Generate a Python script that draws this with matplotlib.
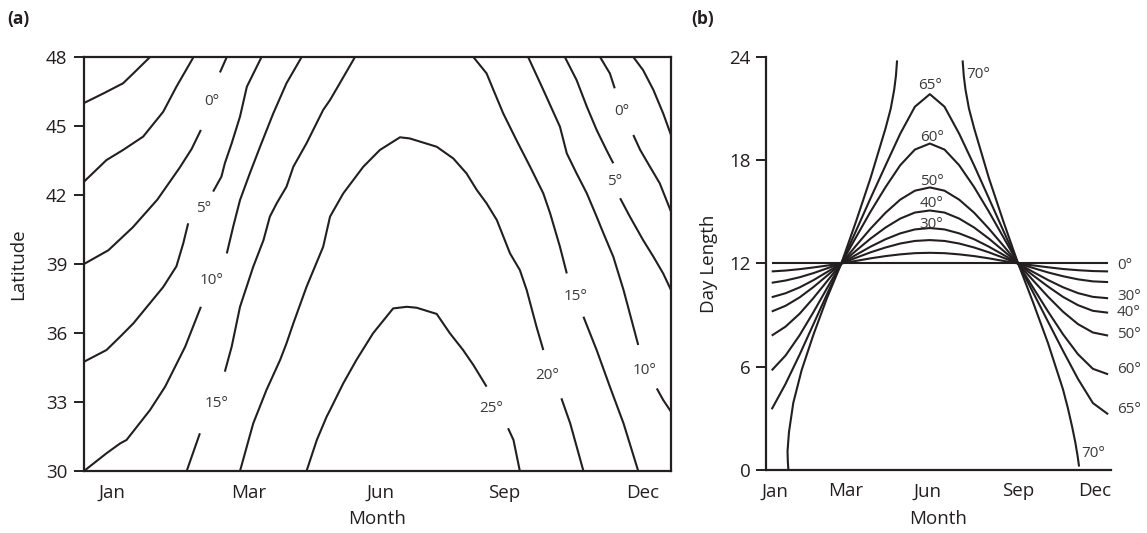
import matplotlib
matplotlib.use("Agg")
import matplotlib.pyplot as plt

plt.rcParams['font.family'] = ['Open Sans', 'DejaVu Sans']

INK = '#231f20'

# ---------------- panel (a): isotherms as (month, latitude) pairs ----------------
# pieces are split where the curve is interrupted by its label
iso_m10 = [(0.0, 46.0), (0.40, 46.42), (0.80, 46.86), (1.01, 47.29), (1.35, 48.0)]
iso_m5 = [(0.0, 42.58), (0.46, 43.52), (0.80, 43.96), (1.21, 44.54), (1.62, 45.62),
          (1.89, 46.71), (2.24, 48.0)]
iso_0_lo = [(0.0, 39.0), (0.5, 39.6), (1.0, 40.6), (1.5, 41.8), (1.96, 43.2),
            (2.2, 44.0), (2.39, 44.83)]
iso_0_hi = [(2.78, 47.33), (2.92, 48.0)]
iso_5_lo = [(0.0, 34.75), (0.46, 35.26), (0.74, 35.84), (1.01, 36.42), (1.62, 38.0),
            (1.89, 38.9), (2.03, 39.9), (2.13, 40.77)]
iso_5_hi = [(2.64, 42.15), (2.81, 42.80), (2.88, 43.38), (3.02, 44.25), (3.19, 45.41),
            (3.33, 46.71), (3.63, 48.0)]
iso_10_lo = [(0.0, 30.0), (0.46, 30.77), (0.74, 31.20), (0.87, 31.35), (1.35, 32.65),
             (1.66, 33.67), (1.83, 34.39), (2.07, 35.41), (2.39, 37.14)]
iso_10_hi = [(2.92, 39.46), (3.05, 40.62), (3.19, 41.78), (3.39, 42.94), (3.60, 44.10),
             (3.87, 45.55), (4.14, 46.86), (4.45, 48.0)]
iso_15_lo = [(2.10, 30.0), (2.37, 31.64)]
iso_15_hi = [(2.88, 34.32), (3.02, 35.41), (3.19, 37.14), (3.46, 38.88), (3.67, 40.04),
             (3.80, 41.06), (3.94, 41.64), (4.14, 42.36), (4.28, 43.23), (4.55, 44.25),
             (4.89, 45.70), (5.03, 46.13), (5.23, 46.86), (5.54, 48.0)]
iso_15_rt = [(7.96, 48.0), (8.23, 47.29), (8.37, 46.57), (8.57, 45.55), (8.84, 44.39),
             (9.12, 43.23), (9.39, 42.07), (9.53, 41.20), (9.73, 39.75), (9.87, 38.59)]
iso_15_rb = [(10.21, 36.71), (10.48, 35.26), (10.75, 33.67), (11.03, 32.07), (11.33, 30.0)]
iso_20 = [(3.19, 30.0), (3.46, 32.07), (3.73, 33.52), (4.01, 34.83), (4.14, 35.55),
          (4.28, 36.42), (4.55, 38.01), (4.89, 39.75), (5.03, 41.06), (5.30, 42.07),
          (5.71, 43.23), (6.05, 43.96), (6.46, 44.51), (6.66, 44.46), (7.21, 44.10),
          (7.55, 43.59), (7.82, 42.94), (8.03, 42.22), (8.23, 41.64), (8.44, 40.91),
          (8.71, 39.46), (8.91, 38.74), (9.05, 37.87), (9.25, 36.28), (9.39, 35.26)]
iso_20_rb = [(9.76, 33.16), (9.94, 32.07), (10.21, 30.0)]
iso_25 = [(4.55, 30.0), (4.76, 31.35), (4.96, 32.36), (5.03, 32.65), (5.30, 33.81),
          (5.57, 34.83), (5.91, 35.99), (6.32, 37.07), (6.60, 37.14), (6.80, 37.10),
          (7.21, 36.83), (7.48, 35.99), (7.75, 35.26), (7.96, 34.61), (8.23, 33.67)]
iso_25_rb = [(8.67, 31.86), (8.78, 31.35), (8.91, 30.0)]
iso_10_rt = [(9.08, 48.0), (9.39, 46.57), (9.73, 44.97), (9.87, 43.81), (10.07, 42.94),
             (10.28, 42.07), (10.48, 41.06), (10.62, 40.33), (10.82, 39.32), (11.03, 37.87),
             (11.33, 35.48)]
iso_10_rb = [(11.71, 33.59), (11.84, 33.09), (12.0, 32.58)]
iso_5_rt = [(9.83, 48.0), (10.07, 47.0), (10.28, 45.84), (10.48, 44.83), (10.68, 43.96),
            (10.82, 43.38)]
iso_5_rb = [(10.96, 41.86), (11.16, 41.06), (11.43, 40.04), (11.64, 39.32), (11.84, 38.59),
            (12.0, 37.87)]
iso_0_rt = [(10.55, 48.0), (10.75, 47.29), (10.85, 46.64)]
iso_0_rb = [(11.23, 44.61), (11.37, 43.96), (11.57, 43.23), (11.77, 42.51), (12.0, 41.28)]
iso_m5_rt = [(11.23, 48.0), (11.43, 47.43), (11.64, 46.57), (11.84, 45.55), (12.0, 44.61)]

isotherms = [iso_m10, iso_m5, iso_0_lo, iso_0_hi, iso_5_lo, iso_5_hi, iso_10_lo, iso_10_hi,
             iso_15_lo, iso_15_hi, iso_15_rt, iso_15_rb, iso_20, iso_20_rb, iso_25, iso_25_rb,
             iso_10_rt, iso_10_rb, iso_5_rt, iso_5_rb, iso_0_rt, iso_0_rb, iso_m5_rt]

iso_labels = ['0°', '5°', '10°', '15°', '25°', '20°', '15°', '10°', '5°', '0°']
iso_label_pos = [(2.61, 46.06), (2.44, 41.42), (2.61, 38.30), (2.71, 32.94), (8.33, 32.73),
                 (9.46, 34.17), (10.04, 37.58), (11.47, 34.39), (10.85, 42.58), (10.99, 45.62)]

lat_ticks = [30, 33, 36, 39, 42, 45, 48]
month_names = ['Jan', 'Mar', 'Jun', 'Sep', 'Dec']
month_pos_a = [0.57, 3.36, 6.06, 8.59, 11.43]

# ---------------- panel (b): day length (hours) by latitude ----------------
day_x = [0.2, 0.68, 1.17, 1.65, 2.13, 2.62, 3.13, 3.64, 4.16, 4.67, 5.18, 5.70,
         6.21, 6.72, 7.24, 7.75, 8.26, 8.77, 9.29, 9.81, 10.33, 10.85, 11.37, 11.9]
day_0 = [12.0] * 24
day_10 = [11.54, 11.59, 11.67, 11.77, 11.88, 12.0, 12.15, 12.30, 12.43, 12.53, 12.60, 12.62,
          12.60, 12.53, 12.43, 12.30, 12.15, 12.0, 11.89, 11.78, 11.68, 11.61, 11.56, 11.54]
day_20 = [10.88, 11.01, 11.20, 11.44, 11.72, 12.0, 12.33, 12.65, 12.93, 13.16, 13.31, 13.36,
          13.31, 13.16, 12.93, 12.65, 12.33, 12.0, 11.74, 11.48, 11.26, 11.08, 10.96, 10.92]
day_30 = [10.04, 10.27, 10.61, 11.03, 11.51, 12.0, 12.50, 12.98, 13.41, 13.75, 13.98, 14.06,
          13.98, 13.75, 13.41, 12.98, 12.50, 12.0, 11.51, 11.04, 10.62, 10.28, 10.06, 9.98]
day_40 = [9.21, 9.54, 10.03, 10.63, 11.30, 12.0, 12.74, 13.45, 14.09, 14.61, 14.96, 15.08,
          14.96, 14.61, 14.09, 13.45, 12.74, 12.0, 11.31, 10.66, 10.06, 9.58, 9.25, 9.14]
day_50 = [7.81, 8.33, 9.08, 9.99, 10.98, 12.0, 13.03, 14.03, 14.95, 15.71, 16.23, 16.42,
          16.23, 15.71, 14.95, 14.03, 13.03, 12.0, 11.02, 10.07, 9.20, 8.48, 7.99, 7.81]
day_60 = [5.79, 6.65, 7.83, 9.17, 10.58, 12.0, 13.52, 15.02, 16.44, 17.71, 18.62, 18.97,
          18.62, 17.71, 16.44, 15.02, 13.52, 12.0, 10.60, 9.21, 7.89, 6.73, 5.88, 5.56]
day_65 = [3.53, 5.00, 6.70, 8.47, 10.24, 12.0, 13.89, 15.80, 17.70, 19.54, 21.11, 21.84,
          21.11, 19.54, 17.70, 15.80, 13.89, 12.0, 10.32, 8.62, 6.93, 5.30, 3.89, 3.24]
# 70 degrees: polar day / polar night, drawn as two branches
day70_spring_x = [0.78, 0.76, 0.75, 0.80, 0.95, 1.24, 1.65, 2.11, 2.62, 3.13, 3.64, 4.16,
                  4.34, 4.46, 4.52, 4.56]
day70_spring_y = [0.0, 0.5, 1.1, 2.2, 3.9, 5.8, 7.86, 9.94, 12.0, 14.43, 16.98, 19.86,
                  21.0, 22.1, 22.9, 23.8]
day70_autumn_x = [6.84, 6.88, 6.94, 7.06, 7.24, 7.75, 8.26, 8.77, 9.29, 9.81, 10.33, 10.50,
                  10.65, 10.76, 10.84, 10.89]
day70_autumn_y = [23.8, 22.9, 22.1, 21.0, 19.86, 16.98, 14.43, 12.0, 9.74, 7.37, 4.69, 3.6,
                  2.5, 1.6, 0.8, 0.2]

day_series = [day_0, day_10, day_20, day_30, day_40, day_50, day_60, day_65]
peak_labels = ['65°', '60°', '50°', '40°', '30°']
peak_label_pos = [(5.70, 22.35), (5.76, 19.3), (5.76, 16.75), (5.76, 15.46), (5.76, 14.24)]
end_labels = ['0°', '30°', '40°', '50°', '60°', '65°']
end_label_y = [11.91, 10.07, 9.14, 7.90, 5.85, 3.53]
hour_ticks = [0, 6, 12, 18, 24]
month_pos_b = [0.31, 2.78, 5.61, 8.78, 11.44]

fig = plt.figure(figsize=(11.47, 5.33), dpi=100)
ax_a = fig.add_axes([0.0732, 0.1163, 0.5118, 0.7767])
ax_b = fig.add_axes([0.6678, 0.1182, 0.3008, 0.7749])

line_kw = dict(color=INK, lw=1.5, solid_joinstyle='round', solid_capstyle='butt')

# ---- (a)
for seg in isotherms:
    xs, ys = zip(*seg)
    ax_a.plot(xs, ys, **line_kw)
for txt, (x, y) in zip(iso_labels, iso_label_pos):
    ax_a.text(x, y, txt, fontsize=11, color='#3a3a3a', ha='center', va='center')

ax_a.set_xlim(0, 12)
ax_a.set_ylim(30, 48)
ax_a.set_yticks(lat_ticks)
ax_a.set_xticks(month_pos_a)
ax_a.set_xticklabels(month_names)
ax_a.tick_params(axis='x', length=0, pad=9, labelsize=13.5, colors=INK)
ax_a.tick_params(axis='y', length=7, width=1.4, pad=5, labelsize=13.5, colors=INK)
for sp in ax_a.spines.values():
    sp.set_linewidth(1.6)
    sp.set_color(INK)
ax_a.set_xlabel('Month', fontsize=13.5, color=INK)
ax_a.set_ylabel('Latitude', fontsize=13.5, color=INK)
ax_a.xaxis.set_label_coords(0.5, -0.095)
ax_a.yaxis.set_label_coords(-0.097, 0.5)

# ---- (b)
for ys in day_series:
    ax_b.plot(day_x, ys, **line_kw)
ax_b.plot(day70_spring_x, day70_spring_y, **line_kw)
ax_b.plot(day70_autumn_x, day70_autumn_y, **line_kw)

for txt, (x, y) in zip(peak_labels, peak_label_pos):
    ax_b.text(x, y, txt, fontsize=11, color='#3a3a3a', ha='center', va='center')
for txt, y in zip(end_labels, end_label_y):
    ax_b.text(12.21, y, txt, fontsize=11, color='#3a3a3a', ha='left', va='center')
ax_b.text(6.95, 23.0, '70°', fontsize=11, color='#3a3a3a', ha='left', va='center')
ax_b.text(10.98, 0.97, '70°', fontsize=11, color='#3a3a3a', ha='left', va='center')

ax_b.set_xlim(0, 12)
ax_b.set_ylim(0, 24)
ax_b.set_yticks(hour_ticks)
ax_b.set_xticks(month_pos_b)
ax_b.set_xticklabels(month_names)
ax_b.spines['top'].set_visible(False)
ax_b.spines['right'].set_visible(False)
for side in ['left', 'bottom']:
    ax_b.spines[side].set_linewidth(1.6)
    ax_b.spines[side].set_color(INK)
ax_b.tick_params(axis='x', length=0, pad=9, labelsize=13.5, colors=INK)
ax_b.tick_params(axis='y', length=7, width=1.4, pad=4, labelsize=13.5, colors=INK)
ax_b.set_xlabel('Month', fontsize=13.5, color=INK)
ax_b.set_ylabel('Day Length', fontsize=13.5, color=INK)
ax_b.xaxis.set_label_coords(0.5, -0.097)
ax_b.yaxis.set_label_coords(-0.14, 0.5)

fig.text(0.006, 0.965, '(a)', fontsize=12.5, fontweight='bold', color=INK, va='center')
fig.text(0.603, 0.965, '(b)', fontsize=12.5, fontweight='bold', color=INK, va='center')

fig.savefig('out.png', dpi=100)
